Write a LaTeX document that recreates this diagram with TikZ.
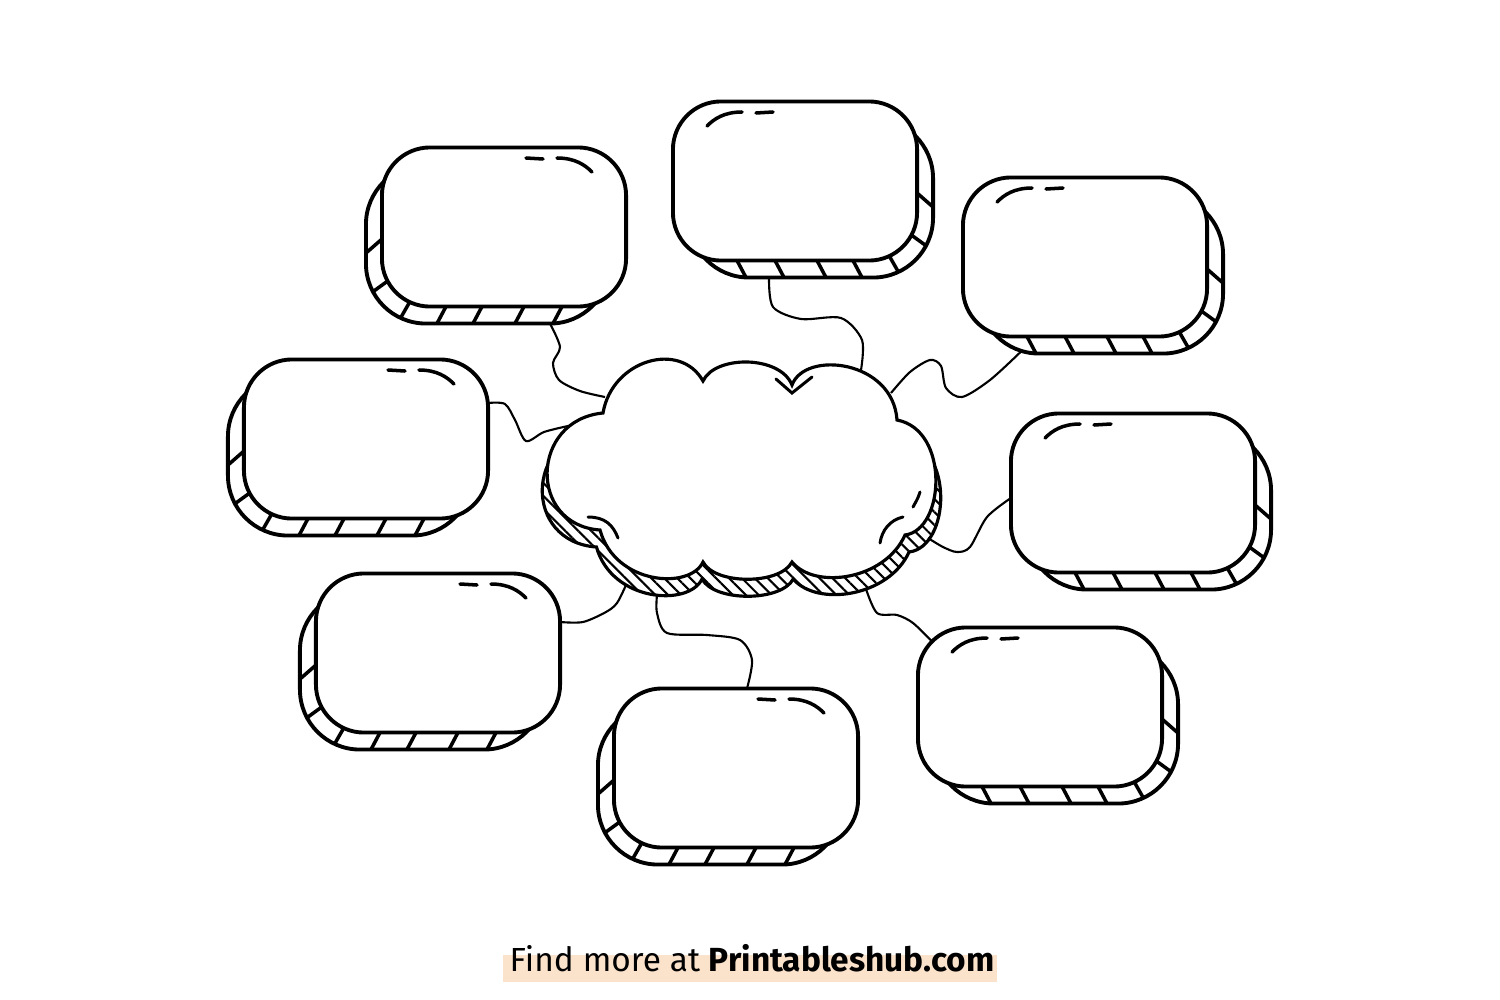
\documentclass[tikz,border=0pt]{standalone}
\usepackage{fontspec}
\newfontfamily\creditfont{Fira Sans}
\usetikzlibrary{calc,patterns.meta}
\definecolor{peach}{RGB}{251,226,203}

\tikzset{
  card/.style={draw, fill=white, line width=1.1pt, rounded corners=0.48cm,
    minimum width=2.44cm, minimum height=1.59cm, inner sep=0pt, outer sep=0pt},
  rimcard/.style={card, rounded corners=0.6cm},
  rung/.style={line width=1pt},
  gloss/.style={line width=1pt, line cap=round},
  crease/.style={line width=0.85pt, line cap=round},
  puff/.style={draw, fill=white, line width=0.9pt},
  hatched/.style={draw, line width=0.9pt,
    pattern={Lines[angle=-45,distance=2.6pt,line width=0.6pt]}},
  wire/.style={line width=0.6pt},
  credit/.style={font=\creditfont\fontsize{9.5}{11}\selectfont, inner sep=0pt, anchor=base}
}

% outline of the cloud in the middle
\newcommand\puffpath{(603,413) .. controls (612,360) and (680,340) .. (703,381)
  .. controls (715,355) and (780,355) .. (792,385)
  .. controls (805,350) and (893,360) .. (897,420)
  .. controls (950,430) and (945,530) .. (905,535)
  .. controls (885,580) and (815,590) .. (792,562)
  .. controls (780,585) and (715,585) .. (703,562)
  .. controls (690,590) and (615,585) .. (600,530)
  .. controls (528,525) and (530,420) .. (603,413) -- cycle}

\begin{document}
\begin{tikzpicture}[x=0.01cm, y=-0.01cm]
  \useasboundingbox (0,0) rectangle (1500,1000);

  % the eight boxes, rim on the left (-1) or on the right (1)
  \foreach \nm/\cx/\cy/\sd in {tl/504/227/-1, tm/795/181/1, tr/1085/257/1, l/366/439/-1,
                               r/1133/493/1, ll/438/653/-1, b/736/768/-1, lr/1040/707/1} {
    \begin{scope}[shift={(\cx,\cy)}, xscale=\sd]
      \node[rimcard] (\nm-rim) at (16,17) {};
      \node[card] (\nm) at (0,0) {};
      \foreach \dx in {-58,-20,22,58}
        \draw[rung] (\dx,79.5) -- ++(9,17);
      \foreach \a in {65,28}
        \draw[rung] ({74+48*cos(\a)},{31.5+48*sin(\a)}) -- ({78+60*cos(\a)},{36.5+60*sin(\a)});
      \draw[rung] (122,12) -- (138,26);
      \draw[gloss] (-88,-55) .. controls (-81,-62) and (-71,-69) .. (-53,-69);
      \draw[gloss] (-39,-68) -- (-22,-69);
    \end{scope}
  }

  % cloud
  \begin{scope}[shift={(742,17)}, xscale=1.025, shift={(-742,0)}]
    \path[hatched] \puffpath;
  \end{scope}
  \path[puff] \puffpath;
  \draw[crease] (776,379) -- (792,393) -- (812,377);
  \draw[crease] (588,517) .. controls (605,517) and (613,525) .. (618,538);
  \draw[crease] (903,517) .. controls (890,520) and (882,530) .. (880,543);
  \draw[crease] (920,492) .. controls (918,498) .. (913,507);

  \coordinate (hub-tl) at (605,397);
  \coordinate (hub-tm) at (861,370);
  \coordinate (hub-tr) at (891,393);
  \coordinate (hub-l)  at (568,426);
  \coordinate (hub-r)  at (928,538);
  \coordinate (hub-ll) at (626,585);
  \coordinate (hub-b)  at (657,595);
  \coordinate (hub-lr) at (866,589);

  \coordinate (tl-port) at ($(tl-rim.south)+(62,0)$);
  \coordinate (tm-port) at ($(tm-rim.south)+(-42,0)$);
  \coordinate (tr-port) at ($(tr-rim.south)+(-80,-2)$);
  \coordinate (l-port)  at ($(l.east)+(0,-36)$);
  \coordinate (r-port)  at ($(r.west)+(0,5)$);
  \coordinate (ll-port) at ($(ll.east)+(0,-31)$);
  \coordinate (b-port)  at ($(b.north)+(11,0)$);
  \coordinate (lr-port) at ($(lr.north west)+(14,14)$);

  % wavy links
  \draw[wire] plot[smooth] coordinates {(tl-port) (560,347) (553,363) (559,380) (580,391) (hub-tl)};
  \draw[wire] plot[smooth] coordinates {(tm-port) (773,307) (801,319) (841,318) (862,340) (hub-tm)};
  \draw[wire] plot[smooth] coordinates {(tr-port) (990,380) (962,397) (946,388) (941,366) (930,360) (910,372) (hub-tr)};
  \draw[wire] plot[smooth] coordinates {(l-port) (505,404) (515,420) (526,441) (544,432) (hub-l)};
  \draw[wire] plot[smooth] coordinates {(r-port) (987,517) (970,547) (957,552) (943,547) (hub-r)};
  \draw[wire] plot[smooth] coordinates {(ll-port) (583,622) (606,612) (617,603) (hub-ll)};
  \draw[wire] plot[smooth] coordinates {(hub-b) (657,613) (667,633) (707,635) (740,640) (752,660) (b-port)};
  \draw[wire] plot[smooth] coordinates {(hub-lr) (877,613) (897,615) (913,623) (lr-port)};

  \fill[peach] (503,955) rectangle (997,982);
  \node[credit] (note) at (752,971) {Find more at \textbf{Printableshub.com}};
\end{tikzpicture}
\end{document}
